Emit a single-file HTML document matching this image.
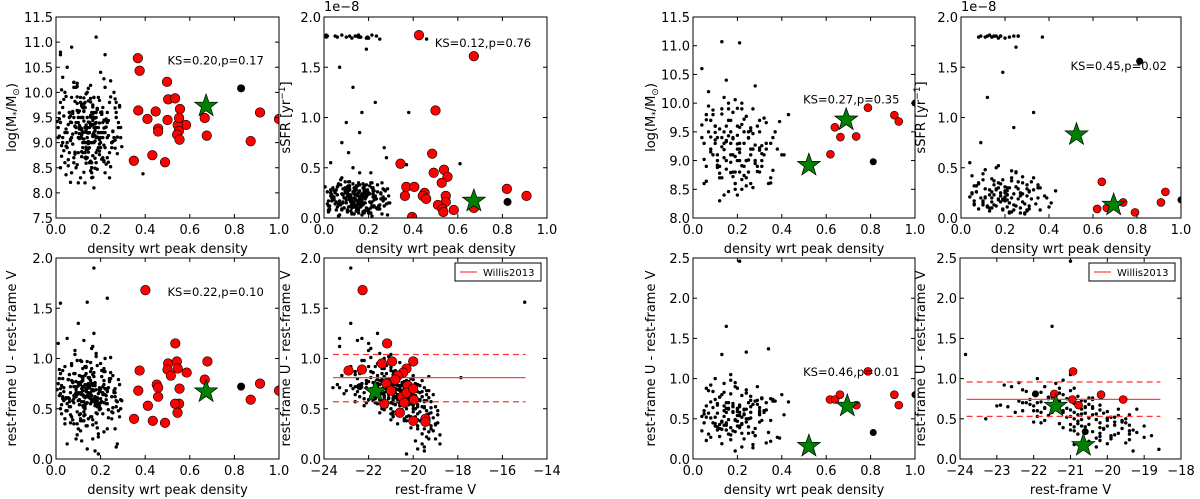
<!DOCTYPE html>
<html><head><meta charset="utf-8">
<style>
html,body{margin:0;padding:0;background:#fff;}
svg{display:block;font-family:"DejaVu Sans","Liberation Sans",sans-serif;}
</style></head>
<body>
<svg id="fig" width="1200" height="499" viewBox="0 0 1200 499" xmlns="http://www.w3.org/2000/svg"></svg>
<script>
// ---------- data: left group (cluster 1) ----------
const densL=[.02,.05,.08,.11,.14,.17,.20,.23,.26,.29,.03,.06,.09,.12,.15,.18,.21,.24,.27,.01,.04,.07,.10,.13,.16,.19,.22,.25,.28,.12,.05,.08,.11,.14,.17,.20,.13,.16,.09,.15,.02,.06,.10,.14,.18,.22,.26,.12,.15,.19,.03,.07,.11,.15,.19,.23,.27,.13,.17,.08,.04,.08,.12,.16,.20,.24,.14,.18,.10,.21,.01,.05,.09,.13,.17,.21,.25,.15,.11,.16,.02,.06,.10,.14,.18,.22,.12,.16,.20,.13,.03,.07,.11,.15,.19,.23,.28,.14,.17,.09,.05,.09,.13,.17,.21,.25,.15,.12,.18,.16,.04,.08,.12,.16,.20,.24,.29,.13,.19,.11,.06,.10,.14,.18,.22,.15,.17,.12,.20,.14,.02,.07,.12,.17,.22,.27,.16,.13,.19,.10,.03,.08,.13,.18,.23,.14,.16,.11,.21,.15];
const densL2=[.015,.045,.075,.105,.135,.165,.195,.225,.255,.285,.035,.065,.095,.125,.155,.185,.215,.245,.275,.005,.025,.055,.085,.115,.145,.175,.205,.235,.265,.295,.105,.125,.145,.165,.185,.135,.155,.175,.115,.195,.045,.085,.125,.165,.205,.245,.065,.105,.145,.185,.015,.055,.095,.135,.175,.215,.255,.125,.165,.075,.035,.075,.115,.155,.195,.235,.145,.175,.095,.215,.025,.065,.105,.145,.185,.225,.265,.135,.115,.155,.045,.085,.125,.165,.205,.245,.115,.155,.195,.135,.055,.095,.135,.175,.215,.255,.285,.145,.165,.085,.065,.105,.145,.185,.225,.265,.155,.125,.175,.165,.035,.075,.115,.155,.195,.235,.275,.135,.185,.105,.025,.095,.135,.175,.215,.155,.165,.125,.195,.145,.015,.065,.115,.165,.215,.265,.155,.135,.185,.095,.045,.085,.125,.175,.225,.145,.165,.115,.205,.155];
const massL=[9.8,9.2,8.7,9.5,9.1,9.9,8.9,9.4,10.0,9.3,10.3,9.6,8.5,9.0,9.3,8.8,9.7,8.3,9.5,9.1,8.6,9.9,9.4,8.2,9.6,9.2,10.1,8.9,9.4,9.7,9.0,10.2,9.3,8.7,9.5,9.1,9.8,8.4,9.2,9.0,9.4,8.8,9.6,10.0,8.6,9.3,9.1,9.5,8.9,9.2,9.7,9.1,8.3,9.4,9.9,8.7,9.6,9.0,9.3,10.1,10.0,9.5,9.2,8.5,9.0,9.8,9.2,9.6,8.8,9.4,9.3,8.9,10.1,9.7,8.1,9.2,9.0,9.4,9.1,8.6,8.5,9.6,9.1,9.3,9.5,8.4,9.7,9.0,9.2,8.8,9.1,8.4,9.8,9.2,8.9,9.6,9.3,9.5,9.0,9.4,10.5,9.3,8.7,9.9,9.1,9.0,8.6,9.2,9.4,8.3,9.2,10.2,9.5,9.0,10.4,8.8,9.1,9.7,9.3,9.9,9.5,8.2,9.3,9.1,8.9,9.4,9.2,8.8,9.6,9.0,10.8,9.4,8.9,9.6,9.2,9.8,8.5,9.3,9.1,9.5,9.0,8.6,9.7,9.3,9.1,9.2,9.5,9.8,8.7,9.4];
const massL2=[9.47,8.93,9.62,9.18,8.71,9.36,9.84,8.57,9.23,9.71,8.84,9.53,10.12,9.07,8.44,9.68,9.29,9.91,8.78,9.42,10.05,8.66,9.33,9.76,9.02,8.49,9.58,9.14,9.87,8.92,9.27,9.63,8.81,9.44,9.11,9.97,8.63,9.38,9.73,8.97,8.36,9.82,9.21,8.74,9.56,10.23,9.04,9.34,8.88,9.66,9.13,8.54,9.91,9.26,8.69,9.45,9.02,9.77,8.31,9.58,9.86,9.17,8.82,9.51,9.39,8.61,10.08,9.24,9.64,8.95,8.73,9.41,9.08,9.83,8.47,9.31,9.69,8.86,9.15,9.54,9.92,8.77,9.43,9.12,9.61,8.52,9.28,9.81,9.06,8.68,9.36,10.18,8.91,9.49,8.62,9.22,9.74,8.99,9.57,9.32,8.21,9.63,9.19,8.85,9.47,9.05,9.88,8.41,9.37,9.71,9.53,8.97,9.25,10.14,8.76,9.44,9.11,8.59,9.66,9.29,8.94,9.78,9.35,9.03,8.64,9.52,9.16,9.89,8.83,9.41,9.59,9.07,8.72,9.46,10.27,8.89,9.33,9.21,9.68,8.56,9.27,8.81,9.62,9.14,9.43,8.98,9.75,9.09,8.67,9.37];
const ssfrL=[0.12,0.25,0.08,0.30,1.81,0.18,0.05,0.22,0.35,0.15,0.28,1.80,0.10,0.20,0.32,0.07,0.45,0.26,0.12,1.82,0.19,0.03,0.27,0.14,0.33,1.79,0.21,0.09,0.60,0.16,1.81,0.24,0.11,0.29,0.17,0.06,0.34,1.80,0.20,0.13,0.08,0.31,0.95,0.23,0.15,0.27,0.04,0.18,1.81,0.25,0.22,0.13,0.36,0.09,1.68,0.19,0.28,0.11,0.24,0.75,0.30,1.82,0.16,0.21,0.07,0.33,0.12,0.26,0.18,0.05,1.80,0.14,0.29,0.50,0.22,0.10,1.78,0.17,0.31,0.20,0.06,0.23,0.15,1.81,0.28,0.12,0.19,0.85,0.25,0.11,0.55,0.17,0.32,0.08,0.21,1.15,0.14,0.27,0.03,0.20,0.26,0.10,1.30,0.18,0.35,0.13,0.24,0.07,0.30,0.16,0.20,0.40,0.12,0.27,1.79,0.09,0.22,0.15,0.33,0.65,0.11,0.28,0.19,0.05,0.24,0.14,1.05,0.21,0.08,0.29,0.17,1.50,0.23,0.13,0.30,0.70,0.18,0.26,0.10,1.80,0.25,0.09,0.16,0.32,0.20,0.12,0.45,0.27,0.15,0.22];
const ssfrL2=[0.14,0.21,0.33,0.06,0.27,0.18,1.80,0.11,0.24,0.29,0.17,0.02,0.26,0.13,1.82,0.22,0.35,0.09,0.19,0.31,0.08,0.28,0.16,0.23,0.12,0.30,0.05,1.81,0.20,0.15,0.25,0.10,0.32,0.18,0.07,0.26,0.14,0.21,0.36,1.79,0.19,0.29,0.04,0.16,0.24,0.11,0.33,0.22,0.13,0.27,1.81,0.08,0.20,0.30,0.15,0.02,0.25,0.17,0.12,0.38,0.23,0.14,0.28,1.80,0.09,0.19,0.31,0.06,0.26,0.16,0.12,0.34,0.21,0.07,0.24,0.18,0.29,0.13,1.81,0.10,0.27,0.15,0.05,0.22,0.32,0.12,0.18,0.25,0.09,0.20,0.16,0.30,0.11,0.24,1.82,0.19,0.03,0.28,0.14,0.23,0.33,0.08,0.18,0.26,0.12,0.21,0.35,0.15,0.06,1.80,0.20,0.13,0.29,0.17,0.23,0.10,0.27,0.04,0.19,0.31,0.09,0.25,0.16,0.34,0.12,1.81,0.22,0.18,0.28,0.07,0.26,0.14,0.20,0.11,0.30,0.17,0.08,0.24,0.15,0.36,0.18,0.23,1.79,0.13,0.27,0.10,0.21,0.32,0.16,0.05];
const uvL=[0.70,0.55,0.85,0.40,0.62,0.75,0.95,0.30,0.68,0.50,0.88,0.60,0.20,0.72,0.65,1.05,0.45,0.80,0.58,1.15,0.35,0.78,0.66,0.52,0.90,0.25,0.70,0.62,0.48,0.82,1.20,0.56,0.74,0.10,0.68,0.60,0.92,0.42,0.77,0.64,0.50,0.84,0.30,0.70,0.58,1.00,0.66,0.38,0.73,0.55,0.62,0.95,0.45,0.80,0.05,0.68,0.52,0.74,0.86,0.60,0.40,0.72,0.64,1.10,0.56,0.78,0.33,0.69,0.58,0.88,0.75,0.15,0.62,0.54,0.82,0.66,0.47,0.71,0.98,0.59,0.85,0.52,0.76,0.63,0.36,0.70,0.80,0.57,0.67,0.44,0.60,0.93,0.28,0.73,0.65,0.55,0.79,0.62,1.25,0.69,0.48,0.66,0.83,0.58,0.72,0.40,0.61,0.90,0.54,0.75,0.92,0.35,0.68,0.63,0.50,0.77,0.59,0.71,0.22,0.66,0.57,1.35,0.74,0.46,0.64,0.81,0.60,0.53,0.70,0.97,0.65,0.42,0.78,0.58,0.87,0.12,0.69,0.61,0.55,0.73,0.80,0.63,0.50,1.02,0.67,0.56,0.75,0.38,0.64,0.71];
const uvL2=[0.63,0.48,0.77,0.59,0.91,0.34,0.71,0.55,0.83,0.42,0.67,0.52,0.98,0.38,0.74,0.61,0.27,0.86,0.57,0.69,0.45,0.79,0.64,0.18,0.72,0.53,0.88,0.41,0.66,0.58,0.76,0.47,0.62,0.84,0.31,0.69,0.55,0.73,0.97,0.50,0.60,1.08,0.43,0.68,0.57,0.80,0.36,0.65,0.74,0.52,0.89,0.61,0.24,0.70,0.56,0.78,0.46,0.63,1.12,0.58,0.71,0.39,0.82,0.60,0.67,0.49,0.75,0.08,0.64,0.87,0.54,0.72,0.44,0.66,0.93,0.59,0.70,0.33,0.77,0.61,0.48,0.85,0.62,0.73,0.57,1.01,0.65,0.42,0.69,0.55,0.79,0.35,0.68,0.60,0.90,0.51,0.74,0.63,0.20,0.72,0.66,0.54,0.81,0.45,0.70,0.62,0.96,0.57,0.75,0.39,0.58,0.76,0.64,0.87,0.49,0.71,0.15,0.67,0.60,0.83,0.73,0.47,0.92,0.62,0.56,0.78,0.68,1.18,0.53,0.65,0.80,0.44,0.70,0.59,0.74,0.30,0.66,0.85,0.58,0.72,0.61,1.04,0.51,0.76,0.63,0.40,0.69,0.57,0.82,0.64];
const vmagL=[-20.8,-20.0,-21.2,-19.6,-20.6,-21.0,-21.6,-19.5,-20.3,-19.9,-21.0,-20.2,-19.3,-21.3,-20.1,-21.5,-19.8,-20.7,-20.9,-22.0,-19.4,-21.2,-20.4,-19.8,-21.4,-19.6,-20.0,-20.8,-20.5,-20.6,-22.3,-20.3,-21.0,-19.8,-20.5,-19.9,-21.7,-20.1,-20.4,-21.1,-20.0,-20.9,-19.2,-21.4,-20.2,-21.3,-20.0,-19.7,-20.7,-20.5,-21.5,-21.0,-20.6,-21.1,-20.3,-20.2,-19.6,-20.9,-21.8,-20.4,-19.3,-20.6,-20.1,-21.9,-21.0,-20.3,-19.8,-21.2,-19.9,-20.8,-21.6,-19.6,-20.5,-20.2,-21.3,-19.7,-20.9,-20.4,-22.2,-20.0,-20.6,-19.5,-21.0,-21.3,-20.0,-20.1,-22.5,-20.7,-19.8,-19.4,-20.2,-21.2,-19.1,-20.5,-21.8,-20.9,-20.0,-19.6,-21.6,-20.7,-20.6,-21.0,-21.6,-19.5,-20.2,-20.0,-20.8,-20.4,-21.2,-19.9,-22.0,-19.0,-20.6,-20.3,-21.0,-21.4,-19.8,-20.0,-19.4,-21.7,-20.7,-22.8,-20.2,-19.2,-20.9,-20.6,-21.1,-20.0,-21.9,-20.9,-20.4,-20.3,-21.5,-19.7,-22.6,-19.5,-20.8,-21.3,-20.1,-20.6,-20.1,-19.9,-21.4,-21.1,-21.2,-20.6,-22.1,-20.4,-20.0,-23.3];
const vmagL2=[-21.3,-19.4,-20.2,-21.5,-21.0,-19.0,-22.1,-20.6,-20.0,-20.9,-19.6,-21.2,-22.3,-20.3,-19.8,-20.9,-19.3,-21.8,-19.2,-22.0,-21.0,-21.6,-19.4,-19.9,-20.9,-22.2,-20.4,-19.1,-21.7,-19.9,-20.5,-19.7,-22.4,-22.6,-20.1,-20.0,-21.4,-22.8,-21.1,-20.3,-20.7,-22.0,-20.2,-23.0,-19.5,-21.2,-18.9,-21.0,-21.5,-19.0,-22.9,-19.3,-18.8,-20.6,-22.1,-19.6,-21.5,-20.2,-23.3,-21.8,-19.5,-19.8,-20.7,-21.7,-22.5,-20.5,-21.0,-19.5,-19.1,-21.9,-20.8,-21.6,-20.9,-20.8,-20.3,-19.7,-22.7,-19.2,-22.0,-21.1,-18.9,-22.4,-21.9,-20.2,-20.1,-21.9,-23.1,-19.9,-20.4,-21.6,-21.4,-20.7,-19.4,-22.2,-21.3,-19.5,-20.8,-20.0,-19.0,-22.6,-21.3,-19.8,-21.9,-19.3,-19.9,-21.8,-20.6,-20.3,-22.3,-21.0,-19.4,-20.4,-22.6,-20.9,-21.3,-21.1,-18.8,-20.5,-20.9,-23.2,-19.7,-20.0,-22.8,-19.6,-21.7,-22.1,-19.3,-22.5,-20.6,-21.4,-20.1,-18.9,-21.0,-22.0,-23.4,-19.8,-22.2,-21.4,-19.5,-20.3,-20.8,-21.0,-19.2,-21.8,-19.9,-20.4,-21.5,-22.6,-19.3,-20.7];
const outAx=[.18,.07,.02,.39,.22], outAy=[11.1,10.9,10.75,8.38,10.75];
const outBx=[.46,.61,.38,.37], outBy=[1.78,0.54,1.05,0.53];
const outCx=[.17,.02,.14,.23], outCy=[1.9,1.55,1.56,1.6];
const outDx=[-22.8,-23.6,-23.3,-15.0,-17.86], outDy=[1.9,0.71,1.2,1.56,0.81];
const redAx=[.367,.375,.498,.503,.534,.556,.583,.369,.41,.447,.458,.458,.5,.546,.551,.543,.554,.552,.349,.432,.489,.667,.676,.873,.915,1.0];
const redAy=[10.68,10.43,10.21,9.86,9.88,9.67,9.35,9.64,9.47,9.62,9.28,9.22,9.45,9.35,9.23,9.16,9.06,9.49,8.64,8.75,8.61,9.49,9.14,9.03,9.6,9.47];
const redBx=[.426,.672,.5,.485,.343,.492,.538,.554,.528,.369,.405,.363,.451,.443,.458,.546,.546,.511,.531,.535,.582,.395,.820,.908,.672];
const redBy=[1.82,1.61,1.07,0.64,0.54,0.45,0.48,0.41,0.35,0.31,0.31,0.22,0.25,0.22,0.19,0.22,0.16,0.13,0.09,0.06,0.08,0.01,0.29,0.22,0.10];
const redCx=[.401,.375,.369,.412,.434,.452,.458,.458,.489,.35,.503,.5,.515,.535,.542,.546,.554,.552,.534,.545,.586,.667,.679,.873,.915,1.0];
const redCy=[1.68,.88,.68,.53,.38,.74,.71,.62,.36,.40,.95,.89,.83,1.15,.97,.90,.70,.55,.55,.46,.86,.79,.97,.59,.75,.68];
const redDx=[-22.27,-22.9,-22.3,-21.17,-21.4,-20.95,-20.0,-20.3,-20.45,-20.7,-20.8,-21.2,-20.25,-21.0,-20.5,-20.3,-20.0,-19.97,-21.3,-20.4,-20.6,-20.0,-19.45,-19.45];
const redDy=[1.68,.88,.89,1.15,.95,.97,.97,.90,.86,.83,.79,.75,.73,.68,.62,.66,.70,.59,.55,.56,.46,.38,.40,.37];
const bigA=[.83,10.08], bigB=[.823,0.16], bigC=[.83,.72], bigD=[-22.4,.72];
const starA=[[.673,9.73]], starB=[[.672,0.17]], starC=[[.673,.67]], starD=[[-21.7,.67]];
const willisL=[0.81,1.04,0.57], willisLx=[-23.6,-14.96];
// ---------- data: right group (cluster 2) ----------
const densR=[.05,.09,.13,.17,.21,.25,.29,.33,.37,.41,.07,.11,.15,.19,.23,.27,.31,.35,.04,.20,.06,.10,.14,.18,.22,.26,.30,.34,.16,.24,.08,.12,.16,.20,.24,.28,.32,.13,.19,.43,.05,.10,.15,.20,.25,.30,.35,.18,.22,.12,.07,.11,.14,.17,.21,.26,.29,.38,.23,.16,.09,.13,.18,.22,.27,.31,.15,.20,.25,.11,.06,.12,.17,.23,.28,.33,.19,.14,.21,.40,.08,.14,.19,.24,.30,.36,.17,.21,.26,.10];
const densR2=[.04,.08,.12,.16,.20,.24,.28,.32,.36,.10,.14,.18,.22,.26,.30,.06,.11,.15,.19,.23,.27,.31,.35,.09,.13,.17,.21,.25,.29,.33,.05,.12,.16,.20,.24,.28,.08,.18,.22,.14,.07,.11,.15,.19,.23,.27,.31,.10,.17,.21,.06,.13,.18,.22,.26,.30,.39,.15,.20,.25];
const massR=[9.3,9.8,8.7,9.5,9.0,9.4,8.9,9.2,9.5,9.1,10.2,9.1,9.6,8.5,9.3,9.9,9.0,8.7,9.4,8.4,8.9,9.6,9.3,8.8,10.0,9.2,9.5,8.6,9.7,9.0,9.7,8.3,9.9,9.2,8.7,10.3,9.1,9.4,8.6,9.8,8.6,9.3,10.4,9.0,9.5,8.8,9.3,9.1,9.9,8.9,9.5,9.0,8.4,9.7,9.3,8.6,9.6,9.2,8.9,10.0,9.1,9.9,9.4,8.5,9.2,8.9,9.0,9.6,8.8,9.4,9.8,8.7,9.1,9.5,9.0,9.3,8.6,10.1,9.2,9.1,9.2,9.5,8.8,9.0,9.7,9.4,9.3,8.8,9.1,9.6];
const massR2=[9.62,9.15,8.78,9.43,9.91,8.56,9.27,9.74,8.83,9.36,9.05,9.84,8.67,9.52,9.18,9.71,8.92,9.33,10.06,8.74,9.47,9.12,8.61,9.88,9.24,8.97,9.58,9.39,8.81,9.66,9.02,9.55,8.46,9.29,9.77,8.95,9.41,8.72,9.63,9.19,9.95,8.88,9.35,9.07,9.72,8.53,9.26,9.49,8.79,9.14,8.64,9.81,9.38,8.91,9.57,9.22,9.68,8.85,9.44,9.01];
const ssfrR=[0.25,1.81,0.10,0.35,0.18,0.45,0.05,0.28,1.80,0.15,0.32,0.20,1.81,0.08,0.40,0.22,0.12,0.30,0.55,1.79,0.17,0.38,0.26,1.81,0.06,0.19,0.33,0.14,0.50,0.24,1.80,0.11,0.29,0.21,0.90,0.16,0.36,1.82,0.09,0.27,0.42,0.13,0.23,0.31,1.70,0.07,0.20,0.34,0.15,1.20,0.26,0.48,0.10,0.19,0.30,1.81,0.04,0.22,0.37,0.12,0.75,0.28,0.16,1.80,0.25,0.09,0.33,0.18,0.46,0.21,0.14,1.81,0.30,0.06,0.24,1.05,0.19,0.39,0.27,0.11,0.35,0.20,1.45,0.13,0.29,0.08,0.52,0.23,1.81,0.17];
const ssfrR2=[0.21,0.34,0.12,1.81,0.27,0.08,0.41,0.19,0.30,0.15,1.80,0.25,0.05,0.36,0.22,0.13,0.29,1.81,0.18,0.47,0.10,0.26,0.33,0.20,0.07,1.79,0.23,0.31,0.14,0.40,0.24,0.11,0.28,0.17,1.81,0.35,0.09,0.22,0.30,0.16,0.26,1.80,0.13,0.38,0.20,0.05,0.27,0.44,0.18,0.11,0.32,0.23,1.81,0.15,0.29,0.08,0.20,0.37,0.25,0.12];
const uvR=[0.60,0.45,0.80,0.30,0.65,0.50,0.90,0.20,0.72,0.55,0.85,0.40,0.58,0.95,0.25,0.68,0.48,0.75,0.35,0.62,0.52,1.00,0.42,0.66,0.15,0.78,0.57,0.33,0.70,0.46,0.92,0.28,0.63,0.54,0.82,0.38,0.60,0.47,0.10,0.71,0.56,0.74,0.36,0.88,0.50,0.64,0.22,0.59,0.44,0.77,0.31,0.67,0.53,0.98,0.41,0.58,0.73,0.27,0.61,0.49,0.84,0.37,0.69,0.52,0.18,0.76,0.45,0.63,0.32,0.57,0.66,0.43,1.05,0.55,0.29,0.70,0.48,0.60,0.39,0.80,0.51,0.94,0.34,0.62,0.46,0.72,0.24,0.58,0.65,0.41];
const uvR2=[0.53,0.71,0.38,0.62,0.47,0.86,0.29,0.58,0.74,0.44,0.66,0.35,0.79,0.51,0.60,0.23,0.69,0.42,0.90,0.56,0.33,0.75,0.48,0.64,0.19,0.81,0.54,0.40,0.68,0.61,0.45,0.77,0.31,0.59,0.50,0.72,0.27,0.65,0.43,0.83,0.57,0.36,0.70,0.49,0.62,0.14,0.76,0.52,0.39,0.67,0.88,0.46,0.58,0.32,0.73,0.55,0.26,0.63,0.41,0.70];
const vmagR=[-21.2,-20.2,-22.0,-19.8,-20.6,-20.9,-21.7,-19.5,-21.3,-20.4,-21.0,-20.6,-21.8,-22.4,-19.9,-20.5,-20.0,-21.6,-20.9,-19.7,-21.1,-21.9,-19.4,-21.4,-20.3,-20.8,-20.1,-20.6,-22.3,-19.8,-22.8,-20.2,-20.4,-21.6,-21.3,-19.6,-22.0,-20.8,-19.3,-20.9,-20.7,-22.1,-21.0,-20.9,-19.5,-21.7,-20.5,-20.0,-21.3,-21.5,-19.4,-20.2,-21.9,-21.2,-20.7,-22.5,-20.7,-19.0,-21.0,-20.3,-22.2,-20.1,-21.5,-19.9,-20.9,-20.4,-21.8,-21.1,-19.7,-20.6,-23.0,-20.5,-21.0,-20.8,-18.8,-21.9,-19.6,-22.3,-20.2,-21.2,-20.0,-21.4,-20.4,-19.2,-22.0,-20.6,-19.4,-21.5,-22.7,-19.0];
const vmagR2=[-21.0,-21.8,-20.1,-20.7,-19.6,-22.3,-19.9,-21.2,-20.4,-20.8,-22.0,-19.4,-21.5,-20.5,-21.9,-20.2,-20.9,-19.8,-22.6,-20.3,-19.2,-21.1,-21.7,-20.6,-20.0,-21.4,-19.7,-20.9,-22.1,-20.2,-19.5,-21.6,-20.8,-21.3,-20.0,-22.4,-19.9,-20.4,-21.0,-21.8,-20.6,-19.3,-22.2,-20.7,-21.5,-20.6,-20.5,-19.8,-21.2,-22.9,-21.3,-19.6,-20.9,-20.2,-21.0,-19.4,-20.3,-21.7,-20.0,-20.8];
const outRAx=[.13,.21,.04], outRAy=[11.07,11.05,10.6];
const outRCx=[.15,.21,.13,.34,.24], outRCy=[1.65,2.46,1.3,1.37,1.33];
const outRDx=[-23.85,-23.3,-18.6,-21.5,-21.0], outRDy=[1.3,.5,.12,1.65,2.46];
const redRAx=[.788,.907,.927,.639,.664,.735,.619], redRAy=[9.92,9.79,9.68,9.58,9.41,9.42,9.11];
const redRBx=[.64,.619,.663,.737,.791,.909,.929], redRBy=[.36,.09,.10,.155,.056,.155,.26];
const redRCx=[.788,.617,.64,.662,.736,.907,.927], redRCy=[1.09,.74,.74,.80,.67,.80,.67];
const redRDx=[-20.93,-21.44,-20.95,-20.78,-20.17,-19.57], redRDy=[1.09,.81,.74,.67,.80,.74];
const bigRA=[[.812,8.98],[1.0,10.0]], bigRB=[[.812,1.56],[1.0,.18]], bigRC=[[.812,.33],[1.0,.80]], bigRD=[[-21.95,.81],[-20.6,.34]];
const starRA=[[.522,8.92],[.690,9.71]], starRB=[[.525,.83],[.694,.13]], starRC=[[.522,.16],[.695,.66]], starRD=[[-21.4,.66],[-20.65,.17]];
const willisR=[0.742,0.958,0.53], willisRx=[-23.82,-18.56];
// tick labels
const densTicks=['0.0','0.2','0.4','0.6','0.8','1.0'];
const massTicksL=['7.5','8.0','8.5','9.0','9.5','10.0','10.5','11.0','11.5'];
const massTicksR=['8.0','8.5','9.0','9.5','10.0','10.5','11.0','11.5'];
const ssfrTicks=['0.0','0.5','1.0','1.5','2.0'];
const uvTicksL=['0.0','0.5','1.0','1.5','2.0'];
const uvTicksR=['0.0','0.5','1.0','1.5','2.0','2.5'];
const vTicksL=['−24','−22','−20','−18','−16','−14'];
const vTicksR=['−24','−23','−22','−21','−20','−19','−18'];
const ksText=['KS=0.20,p=0.17','KS=0.12,p=0.76','KS=0.22,p=0.10','KS=0.27,p=0.35','KS=0.45,p=0.02','KS=0.46,p=0.01'];

const NS='http://www.w3.org/2000/svg';
const svg=document.getElementById('fig');
function el(tag,attrs,parent){const e=document.createElementNS(NS,tag);for(const k in attrs)e.setAttribute(k,attrs[k]);(parent||svg).appendChild(e);return e;}
function num(s){return parseFloat(s.replace('−','-'));}

function panel(name,box,xt,yt,xlabel,ylabelHTML,ylx){
  const g=el('g',{});
  
  
  const xmin=num(xt[0]),xmax=num(xt[xt.length-1]),ymin=num(yt[0]),ymax=num(yt[yt.length-1]);
  const sx=v=>box[0]+(v-xmin)/(xmax-xmin)*(box[1]-box[0]);
  const sy=v=>box[3]-(v-ymin)/(ymax-ymin)*(box[3]-box[2]);
  const clip='c'+name;
  const cp=el('clipPath',{id:clip},g);
  el('rect',{x:box[0],y:box[2],width:box[1]-box[0],height:box[3]-box[2]},cp);
  const plot=el('g',{'clip-path':'url(#'+clip+')'},g);
  
  
  xt.forEach(t=>{const x=sx(num(t));
    el('line',{x1:x,x2:x,y1:box[3],y2:box[3]-4,stroke:'#000','stroke-width':1},g);
    el('line',{x1:x,x2:x,y1:box[2],y2:box[2]+4,stroke:'#000','stroke-width':1},g);
    const tx=el('text',{x:x,y:box[3]+16,'font-size':13,'text-anchor':'middle'},g);
    
    
    tx.textContent=t;});
  yt.forEach(t=>{const y=sy(num(t));
    el('line',{x1:box[0],x2:box[0]+4,y1:y,y2:y,stroke:'#000','stroke-width':1},g);
    el('line',{x1:box[1],x2:box[1]-4,y1:y,y2:y,stroke:'#000','stroke-width':1},g);
    const tx=el('text',{x:box[0]-3,y:y+5,'font-size':13,'text-anchor':'end'},g);
    
    
    tx.textContent=t;});
  const fr=el('rect',{x:box[0],y:box[2],width:box[1]-box[0],height:box[3]-box[2],fill:'none',stroke:'#000','stroke-width':1},g);
  
  
  const xl=el('text',{x:(box[0]+box[1])/2,y:box[3]+35,'font-size':13,'text-anchor':'middle'},g);
  
  
  xl.textContent=xlabel;
  const cy=(box[2]+box[3])/2;
  const yl=el('text',{x:ylx,y:cy,'font-size':13,'text-anchor':'middle',transform:'rotate(-90 '+ylx+' '+cy+')'},g);
  
  
  yl.innerHTML=ylabelHTML;
  return {sx,sy,plot,g,box};
}
function dots(P,xs,ys,r){xs.forEach((v,i)=>{
  const c=el('circle',{cx:P.sx(v),cy:P.sy(ys[i]),r:r,fill:'#000'},P.plot);
  
  });}
function reds(P,xs,ys,r){xs.forEach((v,i)=>{
  const c=el('circle',{cx:P.sx(v),cy:P.sy(ys[i]),r:r,fill:'#ff0000',stroke:'#000','stroke-width':0.6},P.plot);
  
  });}
function big(P,pts,r){pts.forEach(p=>{
  const c=el('circle',{cx:P.sx(p[0]),cy:P.sy(p[1]),r:r,fill:'#000'},P.plot);
  
  });}
function stars(P,pts,R){pts.forEach(p=>{
  const cx=P.sx(p[0]),cy=P.sy(p[1]);let d='';
  for(let k=0;k<10;k++){const rr=k%2?R*0.4:R;const a=-Math.PI/2+k*Math.PI/5;d+=(k?'L':'M')+(cx+rr*Math.cos(a)).toFixed(2)+' '+(cy+rr*Math.sin(a)).toFixed(2);}
  const s=el('path',{d:d+'Z',fill:'#008000',stroke:'#000','stroke-width':0.7},P.plot);
  
  });}
function ks(P,txt,x,y){const t=el('text',{x:P.sx(x),y:P.sy(y)+4,'font-size':11.5},P.g);
  
  
  t.textContent=txt;}
function willis(P,vals,xr){vals.forEach((v,i)=>{
  const l=el('line',{x1:P.sx(xr[0]),x2:P.sx(xr[1]),y1:P.sy(v),y2:P.sy(v),stroke:i?'#ff3333':'#ff4444','stroke-width':1.3,'stroke-dasharray':i?'6,4':'none'},P.plot);
  
  });}
function legend(P){const x1=P.box[1]-92,y=P.box[2]+5;
  const lg=el('g',{},P.g);
  
  
  el('rect',{x:x1,y:y,width:86,height:18,fill:'#fff',stroke:'#000','stroke-width':1},lg);
  el('line',{x1:x1+5,x2:x1+22,y1:y+9,y2:y+9,stroke:'#ff4444','stroke-width':1.3},lg);
  const t=el('text',{x:x1+28,y:y+13,'font-size':10},lg);
  
  
  t.textContent='Willis2013';}
function offset(x,y){const t=el('text',{x:x,y:y,'font-size':13});
  
  
  t.textContent='1e−8';}

const massLab='log(M<tspan font-size="9" dy="3">*</tspan><tspan dy="-3">/M</tspan><tspan font-size="9" dy="3">⊙</tspan><tspan dy="-3">)</tspan>';
const ssfrLab='sSFR [yr<tspan font-size="9" dy="-5">−1</tspan><tspan dy="5">]</tspan>';
const uvLab='rest-frame U - rest-frame V';
const dLab='density wrt peak density';
const R1=1.7;

const A=panel('mass-density-panel-1',[56,279,17,218],densTicks,massTicksL,dLab,massLab,16);
dots(A,densL,massL,R1);dots(A,densL2,massL2,R1);dots(A,outAx,outAy,R1);reds(A,redAx,redAy,4.8);big(A,[bigA],4);stars(A,starA,12);ks(A,ksText[0],.50,10.63);
const B=panel('ssfr-density-panel-1',[324,547,17,218],densTicks,ssfrTicks,dLab,ssfrLab,290);
dots(B,densL,ssfrL,R1);dots(B,densL2,ssfrL2,R1);dots(B,outBx,outBy,R1);reds(B,redBx,redBy,4.8);big(B,[bigB],4);stars(B,starB,12);ks(B,ksText[1],.497,1.74);offset(324,11);
const C=panel('color-density-panel-1',[56,279,258,459],densTicks,uvTicksL,dLab,uvLab,16);
dots(C,densL,uvL,R1);dots(C,densL2,uvL2,R1);dots(C,outCx,outCy,R1);reds(C,redCx,redCy,4.8);big(C,[bigC],4);stars(C,starC,12);ks(C,ksText[2],.50,1.66);
const D=panel('color-magnitude-panel-1',[324,547,258,459],vTicksL,uvTicksL,'rest-frame V',uvLab,290);
dots(D,vmagL,uvL,R1);dots(D,vmagL2,uvL2,R1);dots(D,outDx,outDy,R1);willis(D,willisL,willisLx);reds(D,redDx,redDy,4.8);big(D,[bigD],3.5);stars(D,starD,12);legend(D);

const RA=panel('mass-density-panel-2',[693,915,17,218],densTicks,massTicksR,dLab,massLab,655);
dots(RA,densR,massR,R1);dots(RA,densR2,massR2,R1);dots(RA,outRAx,outRAy,R1);reds(RA,redRAx,redRAy,4);big(RA,bigRA,3.5);stars(RA,starRA,12);ks(RA,ksText[3],.496,10.06);
const RB=panel('ssfr-density-panel-2',[961,1181,17,218],densTicks,ssfrTicks,dLab,ssfrLab,925);
dots(RB,densR,ssfrR,R1);dots(RB,densR2,ssfrR2,R1);reds(RB,redRBx,redRBy,4);big(RB,bigRB,3.5);stars(RB,starRB,12);ks(RB,ksText[4],.498,1.51);offset(961,11);
const RC=panel('color-density-panel-2',[693,915,258,459],densTicks,uvTicksR,dLab,uvLab,655);
dots(RC,densR,uvR,R1);dots(RC,densR2,uvR2,R1);dots(RC,outRCx,outRCy,R1);reds(RC,redRCx,redRCy,4);big(RC,bigRC,3.5);stars(RC,starRC,12);ks(RC,ksText[5],.496,1.08);
const RD=panel('color-magnitude-panel-2',[960,1181,258,459],vTicksR,uvTicksR,'rest-frame V',uvLab,925);
dots(RD,vmagR,uvR,R1);dots(RD,vmagR2,uvR2,R1);dots(RD,outRDx,outRDy,R1);willis(RD,willisR,willisRx);reds(RD,redRDx,redRDy,4);big(RD,bigRD,3.5);stars(RD,starRD,12);legend(RD);
</script>
</body></html>
